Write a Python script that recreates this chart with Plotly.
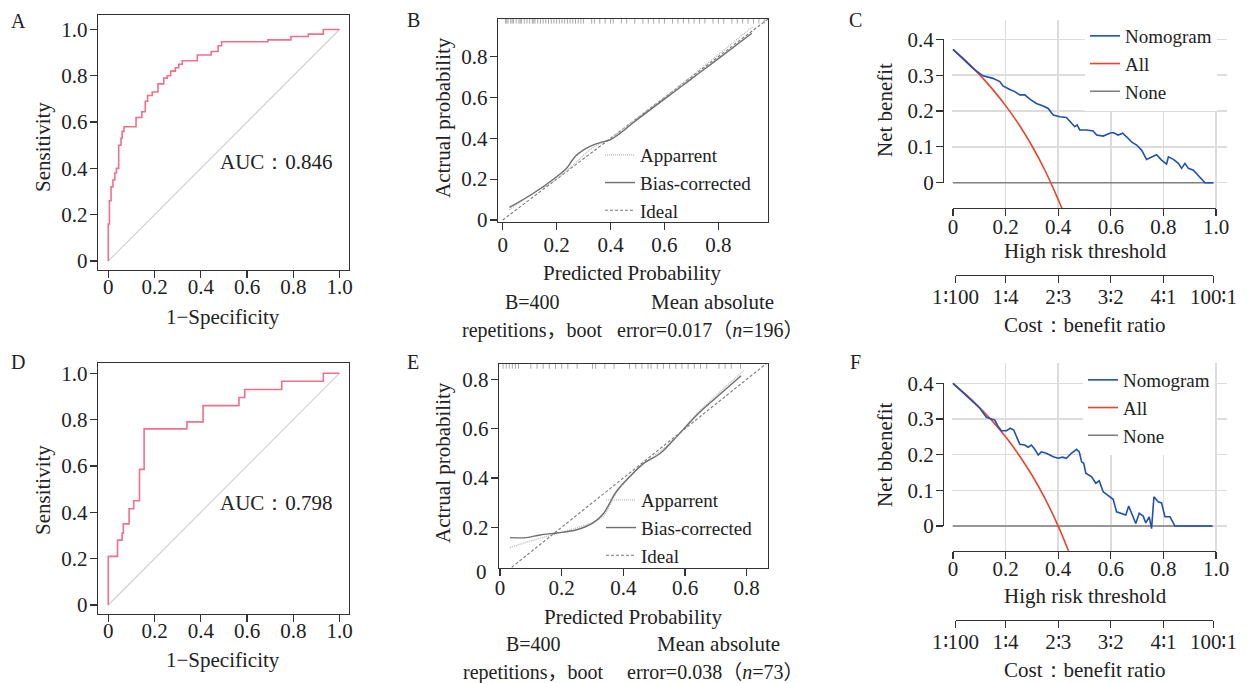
import plotly.graph_objects as go

# ---------------- data ----------------
roc_ticks = [0, 0.2, 0.4, 0.6, 0.8, 1.0]
roc_ticktext = ["0", "0.2", "0.4", "0.6", "0.8", "1.0"]
cal_ticks = [0, 0.2, 0.4, 0.6, 0.8]
cal_ticktext = ["0", "0.2", "0.4", "0.6", "0.8"]
dca_xticks = [0, 0.2, 0.4, 0.6, 0.8, 1.0]
dca_xticktext = ["0", "0.2", "0.4", "0.6", "0.8", "1.0"]
dca_yticks = [0, 0.1, 0.2, 0.3, 0.4]
dca_yticktext = ["0", "0.1", "0.2", "0.3", "0.4"]
cost_ticks = [0.01, 0.2, 0.4, 0.6, 0.8, 0.99]
cost_ticktext = ["1∶100", "1∶4", "2∶3", "3∶2", "4∶1", "100∶1"]

# A: ROC (training)
roc_a_fpr = [0.0, 0.0, 0.005, 0.012, 0.02, 0.028, 0.035, 0.045, 0.055, 0.06, 0.068, 0.12, 0.145,
             0.16, 0.17, 0.19, 0.215, 0.24, 0.255, 0.27, 0.29, 0.305, 0.32, 0.385, 0.445, 0.475,
             0.49, 0.69, 0.79, 0.865, 0.93, 1.0]
roc_a_tpr = [0.0, 0.16, 0.26, 0.32, 0.35, 0.38, 0.40, 0.50, 0.53, 0.56, 0.58, 0.62, 0.645,
             0.69, 0.715, 0.73, 0.765, 0.79, 0.80, 0.82, 0.835, 0.85, 0.865, 0.89, 0.905, 0.93,
             0.947, 0.955, 0.97, 0.98, 1.0, 1.0]
auc_a = "AUC：0.846"

# D: ROC (validation)
roc_d_fpr = [0.0, 0.0, 0.04, 0.06, 0.065, 0.09, 0.11, 0.135, 0.155, 0.34, 0.41, 0.565, 0.59,
             0.75, 0.93, 1.0]
roc_d_tpr = [0.0, 0.21, 0.28, 0.31, 0.35, 0.415, 0.45, 0.585, 0.76, 0.79, 0.86, 0.895, 0.93,
             0.965, 1.0, 1.0]
auc_d = "AUC：0.798"

diag = [0, 1]

# B: calibration (training)
cal_b_app_x = [0.025, 0.1, 0.2, 0.27, 0.33, 0.4, 0.5, 0.6, 0.7, 0.8, 0.93]
cal_b_app_y = [0.05, 0.12, 0.2, 0.28, 0.35, 0.4, 0.5, 0.6, 0.705, 0.81, 0.95]
cal_b_bias_x = [0.025, 0.114, 0.2, 0.237, 0.268, 0.3, 0.33, 0.361, 0.398, 0.435, 0.485, 0.596,
                0.695, 0.794, 0.924]
cal_b_bias_y = [0.062, 0.131, 0.212, 0.253, 0.31, 0.343, 0.364, 0.379, 0.392, 0.424, 0.477,
                0.588, 0.686, 0.784, 0.914]
cal_b_rug = [0.01, 0.015, 0.02, 0.03, 0.035, 0.04, 0.05, 0.06, 0.065, 0.07, 0.08, 0.09, 0.10,
             0.11, 0.115, 0.12, 0.13, 0.14, 0.15, 0.16, 0.17, 0.18, 0.19, 0.20, 0.21, 0.22,
             0.23, 0.24, 0.25, 0.26, 0.27, 0.28, 0.29, 0.30, 0.33, 0.34, 0.36, 0.38, 0.40,
             0.41, 0.44, 0.46, 0.49, 0.52, 0.54, 0.56, 0.58, 0.60, 0.63, 0.65, 0.67, 0.69,
             0.71, 0.73, 0.75, 0.78, 0.80, 0.82, 0.85, 0.87, 0.89, 0.91, 0.93, 0.95, 0.97]
rug_b_level = 0.975
note_b = "error=0.017（<i>n</i>=196）"

# E: calibration (validation)
cal_e_app_x = [0.032, 0.1, 0.2, 0.3, 0.335, 0.378, 0.45, 0.55, 0.65, 0.79]
cal_e_app_y = [0.118, 0.145, 0.18, 0.22, 0.245, 0.34, 0.44, 0.54, 0.675, 0.835]
cal_e_bias_x = [0.032, 0.086, 0.13, 0.184, 0.249, 0.303, 0.335, 0.378, 0.422, 0.465, 0.519,
                0.562, 0.605, 0.649, 0.703, 0.782]
cal_e_bias_y = [0.158, 0.158, 0.169, 0.177, 0.19, 0.219, 0.255, 0.346, 0.407, 0.458, 0.499,
                0.553, 0.611, 0.668, 0.728, 0.814]
cal_e_rug = [0.01, 0.02, 0.03, 0.04, 0.05, 0.06, 0.10, 0.12, 0.14, 0.16, 0.18, 0.20, 0.22,
             0.25, 0.30, 0.31, 0.34, 0.37, 0.42, 0.44, 0.46, 0.48, 0.49, 0.51, 0.53, 0.55,
             0.57, 0.59, 0.61, 0.63, 0.65, 0.67, 0.71, 0.73, 0.75, 0.78]
rug_e_level = 0.854
note_e = "error=0.038（<i>n</i>=73）"

# C: decision curve (training)
dca_c_nomo_x = [0, 0.076, 0.114, 0.152, 0.178, 0.19, 0.216, 0.235, 0.254, 0.273, 0.292, 0.317,
                0.343, 0.362, 0.381, 0.406, 0.431, 0.45, 0.463, 0.472, 0.482, 0.508, 0.533,
                0.546, 0.571, 0.596, 0.609, 0.628, 0.645, 0.66, 0.679, 0.698, 0.717, 0.736,
                0.755, 0.774, 0.793, 0.812, 0.819, 0.838, 0.857, 0.869, 0.882, 0.895, 0.914,
                0.933, 0.958, 0.99]
dca_c_nomo_y = [0.372, 0.319, 0.298, 0.291, 0.282, 0.27, 0.26, 0.254, 0.245, 0.245, 0.233,
                0.221, 0.214, 0.207, 0.189, 0.184, 0.182, 0.166, 0.156, 0.161, 0.147, 0.147,
                0.144, 0.133, 0.13, 0.138, 0.14, 0.133, 0.138, 0.128, 0.114, 0.105, 0.091,
                0.065, 0.072, 0.078, 0.063, 0.052, 0.072, 0.065, 0.054, 0.04, 0.054, 0.04,
                0.035, 0.021, 0.0, 0.0]
dca_c_all_x = [0, 0.05, 0.1, 0.15, 0.2, 0.25, 0.3, 0.35, 0.4, 0.42]
dca_c_all_y = [0.372, 0.339, 0.302, 0.261, 0.215, 0.163, 0.103, 0.034, -0.047, -0.082]
dca_c_none_x = [0, 0.99]
dca_c_none_y = [0, 0]

# F: decision curve (validation)
dca_f_nomo_x = [0, 0.102, 0.127, 0.146, 0.159, 0.171, 0.184, 0.203, 0.218, 0.231, 0.241, 0.254,
                0.273, 0.286, 0.298, 0.311, 0.324, 0.336, 0.355, 0.381, 0.4, 0.416, 0.431,
                0.45, 0.47, 0.48, 0.489, 0.497, 0.505, 0.527, 0.543, 0.556, 0.571, 0.596,
                0.609, 0.622, 0.641, 0.657, 0.668, 0.679, 0.695, 0.708, 0.723, 0.733, 0.746,
                0.755, 0.764, 0.78, 0.793, 0.806, 0.825, 0.844, 0.987]
dca_f_nomo_y = [0.4, 0.33, 0.305, 0.3, 0.297, 0.28, 0.267, 0.267, 0.274, 0.269, 0.25, 0.229,
                0.227, 0.221, 0.227, 0.215, 0.199, 0.208, 0.204, 0.194, 0.19, 0.193, 0.19,
                0.204, 0.215, 0.208, 0.18, 0.176, 0.148, 0.138, 0.12, 0.127, 0.096, 0.082,
                0.075, 0.04, 0.036, 0.031, 0.056, 0.036, 0.007, 0.036, 0.028, 0.009, 0.026,
                -0.007, 0.082, 0.068, 0.065, 0.026, 0.026, 0.0, 0.0]
dca_f_all_x = [0, 0.05, 0.1, 0.15, 0.2, 0.25, 0.3, 0.35, 0.4, 0.44]
dca_f_all_y = [0.4, 0.368, 0.333, 0.294, 0.25, 0.2, 0.143, 0.077, 0.0, -0.071]
dca_f_none_x = [0, 0.987]
dca_f_none_y = [0, 0]

# ---------------- styling ----------------
W, H = 1249, 683
FONT = "Liberation Serif, Times New Roman, serif"
FONT_SC = "Liberation Serif, Noto Sans CJK SC, serif"
TXT = "#222222"
AX = "#333333"
FS = 21
PINK = "#F0708A"
BLUE = "#2050B0"
RED = "#E8452C"
GRAYL = "#808080"


def px(x):
    return x / W


def py(y):
    return 1 - y / H


def tickfont():
    return dict(family=FONT, size=FS, color=TXT)


def boxed(domain, rng, tv, tt, anchor, standoff):
    return dict(domain=domain, range=rng, tickvals=tv, ticktext=tt, anchor=anchor,
                showline=True, mirror=True, linecolor=AX, linewidth=1.3,
                ticks="outside", ticklen=7, tickwidth=1.2, tickcolor=AX,
                showgrid=False, zeroline=False, tickfont=tickfont(), fixedrange=True,
                automargin=False, ticklabelstandoff=standoff, tickangle=0)


def frame(domain, rng, tv, tt, pos, standoff):
    return dict(domain=domain, range=rng, tickvals=tv, ticktext=tt, anchor="free", position=pos,
                showline=True, linecolor=AX, linewidth=1.3, ticks="outside", ticklen=7,
                tickwidth=1.2, tickcolor=AX, showgrid=False, zeroline=False,
                tickfont=tickfont(), fixedrange=True, automargin=False,
                ticklabelstandoff=standoff, tickangle=0)


def griddata(domain, rng, tv, anchor):
    return dict(domain=domain, range=rng, tickvals=tv, anchor=anchor, showticklabels=False,
                ticks="", showline=False, zeroline=False, showgrid=True,
                gridcolor="#DCDCDC", gridwidth=1.5, fixedrange=True, automargin=False)


fig = go.Figure()


def line(x, y, xa, ya, color, width=1.6, dash="solid", name=None, legend=None, shape="linear",
         rank=None):
    fig.add_trace(go.Scatter(
        x=x, y=y, xaxis=xa, yaxis=ya, mode="lines", name=name,
        line=dict(color=color, width=width, dash=dash, shape=shape),
        showlegend=name is not None, legend=legend if legend else "legend",
        legendrank=rank if rank else 1000, hoverinfo="skip"))


# A
line(diag, diag, "x", "y", "#D0D0D0", width=1.1)
line(roc_a_fpr, roc_a_tpr, "x", "y", PINK, width=1.6, shape="hv")
# D
line(diag, diag, "x6", "y6", "#D0D0D0", width=1.1)
line(roc_d_fpr, roc_d_tpr, "x6", "y6", PINK, width=1.6, shape="hv")

# B
line(diag, diag, "x2", "y2", "#7A7A7A", width=1.1, dash="3px,2px", name="Ideal",
     legend="legend2", rank=3)
line(cal_b_app_x, cal_b_app_y, "x2", "y2", "#B8B8B8", width=1.3, dash="1px,1px",
     name="Apparrent", legend="legend2", shape="spline", rank=1)
line(cal_b_bias_x, cal_b_bias_y, "x2", "y2", "#6E6E6E", width=1.4, name="Bias-corrected",
     legend="legend2", shape="spline", rank=2)
fig.add_trace(go.Scatter(x=cal_b_rug, y=[rug_b_level] * len(cal_b_rug), xaxis="x2", yaxis="y2",
                         mode="markers", showlegend=False, hoverinfo="skip",
                         marker=dict(symbol="line-ns", size=4,
                                     line=dict(width=1, color="#A8A8A8"))))
# E
line(diag, diag, "x7", "y7", "#7A7A7A", width=1.1, dash="3px,2px", name="Ideal",
     legend="legend4", rank=3)
line(cal_e_app_x, cal_e_app_y, "x7", "y7", "#B8B8B8", width=1.3, dash="1px,1px",
     name="Apparrent", legend="legend4", shape="spline", rank=1)
line(cal_e_bias_x, cal_e_bias_y, "x7", "y7", "#6E6E6E", width=1.4, name="Bias-corrected",
     legend="legend4", shape="spline", rank=2)
fig.add_trace(go.Scatter(x=cal_e_rug, y=[rug_e_level] * len(cal_e_rug), xaxis="x7", yaxis="y7",
                         mode="markers", showlegend=False, hoverinfo="skip",
                         marker=dict(symbol="line-ns", size=4,
                                     line=dict(width=1, color="#A8A8A8"))))

# C
line(dca_c_none_x, dca_c_none_y, "x3", "y3", GRAYL, name="None", legend="legend3", rank=3)
line(dca_c_all_x, dca_c_all_y, "x3", "y3", RED, name="All", legend="legend3", shape="spline",
     rank=2)
line(dca_c_nomo_x, dca_c_nomo_y, "x3", "y3", BLUE, name="Nomogram", legend="legend3", rank=1)
# F
line(dca_f_none_x, dca_f_none_y, "x8", "y8", GRAYL, name="None", legend="legend5", rank=3)
line(dca_f_all_x, dca_f_all_y, "x8", "y8", RED, name="All", legend="legend5", shape="spline",
     rank=2)
line(dca_f_nomo_x, dca_f_nomo_y, "x8", "y8", BLUE, name="Nomogram", legend="legend5", rank=1)

# empty traces to register the frame / cost axes
for xa, ya in [("x4", "y4"), ("x5", "y5"), ("x9", "y9"), ("x10", "y10")]:
    fig.add_trace(go.Scatter(x=[], y=[], xaxis=xa, yaxis=ya, showlegend=False, hoverinfo="skip"))

YS = -2     # y tick label standoff
DS = -8     # threshold axes
CS = -5     # cost axes

layout = dict(
    template="none",
    width=W, height=H, autosize=False, margin=dict(l=0, r=0, t=0, b=0, pad=0),
    paper_bgcolor="white", plot_bgcolor="rgba(0,0,0,0)",
    font=dict(family=FONT, size=FS, color=TXT), hovermode=False,
    # A
    xaxis=boxed([px(98), px(349)], [-0.0445, 1.041], roc_ticks, roc_ticktext, "y", -10),
    yaxis=boxed([py(270), py(15)], [-0.0389, 1.0626], roc_ticks, roc_ticktext, "x", YS),
    # D
    xaxis6=boxed([px(98), px(349)], [-0.0445, 1.041], roc_ticks, roc_ticktext, "y6", -10),
    yaxis6=boxed([py(614), py(363)], [-0.0388, 1.044], roc_ticks, roc_ticktext, "x6", YS),
    # B
    xaxis2=boxed([px(498), px(768)], [-0.0174, 0.984], cal_ticks, cal_ticktext, "y2", -4),
    yaxis2=boxed([py(222), py(19)], [-0.0098, 0.984], cal_ticks, cal_ticktext, "x2", YS),
    # E
    xaxis7=boxed([px(499), px(768)], [-0.0032, 0.869], cal_ticks, cal_ticktext, "y7", -7),
    yaxis7=boxed([py(568), py(364)], [0.035, 0.862], cal_ticks, cal_ticktext, "x7", YS),
    # C data + frame + cost axis
    xaxis3=griddata([px(952), px(1227)], [-0.0038, 1.0418], dca_xticks, "y3"),
    yaxis3=griddata([py(208), py(20)], [-0.0706, 0.4538], dca_yticks, "x3"),
    xaxis4=frame([px(953), px(1216)], [0, 1], dca_xticks, dca_xticktext, py(208), DS),
    yaxis4=frame([py(182.7), py(39.3)], [0, 0.4], dca_yticks, dca_yticktext, px(943), YS),
    xaxis5=frame([px(955.6), px(1213.4)], [0.01, 0.99], cost_ticks, cost_ticktext, py(275), CS),
    yaxis5=dict(domain=[py(275), py(270)], anchor="x5", visible=False, fixedrange=True,
                automargin=False),
    # F data + frame + cost axis
    xaxis8=griddata([px(952), px(1227)], [-0.0038, 1.0418], dca_xticks, "y8"),
    yaxis8=griddata([py(550.7), py(363.3)], [-0.069, 0.456], dca_yticks, "x8"),
    xaxis9=frame([px(953), px(1216)], [0, 1], dca_xticks, dca_xticktext, py(550.7), DS),
    yaxis9=frame([py(526), py(383.3)], [0, 0.4], dca_yticks, dca_yticktext, px(943), YS),
    xaxis10=frame([px(955.6), px(1213.4)], [0.01, 0.99], cost_ticks, cost_ticktext, py(620), CS),
    yaxis10=dict(domain=[py(620), py(615)], anchor="x10", visible=False, fixedrange=True,
                 automargin=False),
)


def legend_at(xp, yp, bg):
    return dict(x=px(xp), y=py(yp), xanchor="left", yanchor="top", bgcolor=bg,
                borderwidth=0, font=dict(family=FONT, size=19, color=TXT),
                traceorder="normal", tracegroupgap=0)


layout["legend2"] = legend_at(600, 136, "rgba(0,0,0,0)")
layout["legend4"] = legend_at(601, 481, "rgba(0,0,0,0)")
layout["legend3"] = legend_at(1085, 17, "white")
layout["legend5"] = legend_at(1083, 361, "white")
layout["showlegend"] = True
fig.update_layout(**layout)

ann = []


def text(t, x, y, size=FS, angle=0, xanchor="center", family=FONT):
    ann.append(dict(text=t, x=px(x), y=py(y), xref="paper", yref="paper", showarrow=False,
                    xanchor=xanchor, yanchor="middle", textangle=angle,
                    font=dict(family=family, size=size, color=TXT)))


# panel letters
for letter, (lx, ly) in {"A": (18, 21), "B": (413, 20), "C": (855, 20),
                         "D": (18, 362), "E": (413, 362), "F": (855, 362)}.items():
    text(letter, lx, ly, size=20)

# A / D
text("Sensitivity", 43, 147, angle=-90)
text("1−Specificity", 223, 317)
text("Sensitivity", 43, 490, angle=-90)
text("1−Specificity", 223, 660)
ann.append(dict(text=auc_a, x=0.727, y=0.427, xref="x", yref="y", showarrow=False,
                font=dict(family=FONT, size=FS, color=TXT)))
ann.append(dict(text=auc_d, x=0.727, y=0.44, xref="x6", yref="y6", showarrow=False,
                font=dict(family=FONT, size=FS, color=TXT)))

# B
NS = 20
text("Actrual probability", 443, 118, angle=-90)
text("Predicted Probability", 632, 273)
text("B=400", 532, 302, size=NS)
text("repetitions，boot", 532, 330, size=NS, family=FONT_SC)
text("Mean absolute", 712, 302)
text(note_b, 710, 330, size=NS, family=FONT_SC)
# E
text("Actrual probability", 443, 463, angle=-90)
text("Predicted Probability", 633, 617)
text("B=400", 533, 644, size=NS)
text("repetitions，boot", 533, 672, size=NS, family=FONT_SC)
text("Mean absolute", 718, 644)
text(note_e, 715, 672, size=NS, family=FONT_SC)
text("0", 489, 572, xanchor="right")

# C / F
text("Net benefit", 885, 110, angle=-90)
text("High risk threshold", 1085, 251)
text("Cost：benefit ratio", 1085, 325)
text("Net bbenefit", 885, 455, angle=-90)
text("High risk threshold", 1085, 596)
text("Cost：benefit ratio", 1085, 670)

fig.update_layout(annotations=ann)

fig.write_html("out.html", config={"displayModeBar": False, "staticPlot": True},
               post_script="document.body.style.margin='0';")
